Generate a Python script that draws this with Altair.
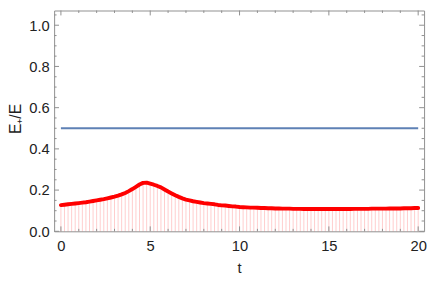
import altair as alt
import pandas as pd

# ---- data ----
t_vals = [
    0.0, 0.2, 0.4, 0.6, 0.8, 1.0, 1.2, 1.4, 1.6, 1.8,
    2.0, 2.2, 2.4, 2.6, 2.8, 3.0, 3.2, 3.4, 3.6, 3.8,
    4.0, 4.2, 4.4, 4.6, 4.8, 5.0, 5.2, 5.4, 5.6, 5.8,
    6.0, 6.2, 6.4, 6.6, 6.8, 7.0, 7.2, 7.4, 7.6, 7.8,
    8.0, 8.2, 8.4, 8.6, 8.8, 9.0, 9.2, 9.4, 9.6, 9.8,
    10.0, 10.2, 10.4, 10.6, 10.8, 11.0, 11.2, 11.4, 11.6, 11.8,
    12.0, 12.2, 12.4, 12.6, 12.8, 13.0, 13.2, 13.4, 13.6, 13.8,
    14.0, 14.2, 14.4, 14.6, 14.8, 15.0, 15.2, 15.4, 15.6, 15.8,
    16.0, 16.2, 16.4, 16.6, 16.8, 17.0, 17.2, 17.4, 17.6, 17.8,
    18.0, 18.2, 18.4, 18.6, 18.8, 19.0, 19.2, 19.4, 19.6, 19.8,
    20.0,
]
ratio_vals = [
    0.127, 0.129, 0.131, 0.133, 0.135, 0.137, 0.139, 0.141, 0.144, 0.147,
    0.150, 0.153, 0.156, 0.160, 0.164, 0.168, 0.173, 0.179, 0.186, 0.195,
    0.205, 0.216, 0.227, 0.235, 0.236, 0.231, 0.226, 0.220, 0.213, 0.203,
    0.193, 0.184, 0.175, 0.167, 0.160, 0.154, 0.150, 0.146, 0.143, 0.140,
    0.137, 0.135, 0.133, 0.131, 0.128, 0.126, 0.125, 0.123, 0.121, 0.120,
    0.118, 0.117, 0.116, 0.115, 0.115, 0.114, 0.113, 0.113, 0.112, 0.112,
    0.111, 0.111, 0.110, 0.110, 0.110, 0.109, 0.109, 0.109, 0.108, 0.108,
    0.108, 0.108, 0.108, 0.108, 0.108, 0.108, 0.108, 0.108, 0.108, 0.108,
    0.108, 0.108, 0.109, 0.109, 0.109, 0.109, 0.109, 0.110, 0.110, 0.110,
    0.110, 0.110, 0.111, 0.111, 0.111, 0.111, 0.112, 0.112, 0.112, 0.113,
    0.113,
]
blue_t = [0, 20]
blue_vals = [0.5, 0.5]

x_major = [0, 5, 10, 15, 20]
x_minor = [1, 2, 3, 4, 6, 7, 8, 9, 11, 12, 13, 14, 16, 17, 18, 19]
y_major = [0.0, 0.2, 0.4, 0.6, 0.8, 1.0]
y_minor = [0.05, 0.1, 0.15, 0.25, 0.3, 0.35, 0.45, 0.5, 0.55, 0.65, 0.7,
           0.75, 0.85, 0.9, 0.95, 1.05]

# ---- layout / style ----
W, H = 377, 225
XDOM = [-0.38, 20.33]
YDOM = [0, 1.0714]
FRAME = "#8f8f8f"
FONT = "Liberation Sans"

df = pd.DataFrame({"t": t_vals, "r": ratio_vals})
df["base"] = 0.0
blue = pd.DataFrame({"t": blue_t, "r": blue_vals})

xs = alt.Scale(domain=XDOM, nice=False, zero=False)
ys = alt.Scale(domain=YDOM, nice=False, zero=False)

xaxis = alt.Axis(values=x_major, format="d", ticks=False, tickSize=0, domain=False,
                 grid=False, labelPadding=8, labelFontSize=15, labelFont=FONT,
                 labelColor="#222222", labelOverlap=False, labelBound=False,
                 title="t", titleFont=FONT, titleFontSize=15,
                 titleFontWeight="normal", titleColor="#222222",
                 titleBaseline="alphabetic", titleY=42)
yaxis = alt.Axis(values=y_major, format=".1f", ticks=False, tickSize=0, domain=False,
                 grid=False, labelPadding=5, labelFontSize=15, labelFont=FONT,
                 labelColor="#222222", title="E₊/E", titleFont=FONT, titleFontSize=16,
                 titleFontWeight="normal", titleColor="#222222",
                 titleBaseline="top", titleX=-47, titleY=110)

stems = alt.Chart(df).mark_rule(color="#ff0000", opacity=0.2, strokeWidth=1).encode(
    x=alt.X("t:Q", scale=xs, axis=xaxis),
    y=alt.Y("r:Q", scale=ys, axis=yaxis),
    y2="base:Q",
)
red = alt.Chart(df).mark_line(color="#ff0000", strokeWidth=4, strokeCap="round",
                              strokeJoin="round").encode(
    x=alt.X("t:Q", scale=xs), y=alt.Y("r:Q", scale=ys))
blueline = alt.Chart(blue).mark_line(color="#5e81b5", strokeWidth=2).encode(
    x=alt.X("t:Q", scale=xs), y=alt.Y("r:Q", scale=ys))

xmaj = pd.DataFrame({"v": x_major})
xmin = pd.DataFrame({"v": x_minor})
ymaj = pd.DataFrame({"v": y_major})
ymin = pd.DataFrame({"v": y_minor})


def xticks(d, ln):
    b = alt.Chart(d).mark_rule(color=FRAME, strokeWidth=1).encode(
        x=alt.X("v:Q", scale=xs), y=alt.value(H), y2=alt.value(H - ln))
    t = alt.Chart(d).mark_rule(color=FRAME, strokeWidth=1).encode(
        x=alt.X("v:Q", scale=xs), y=alt.value(0), y2=alt.value(ln))
    return [b, t]


def yticks(d, ln):
    l = alt.Chart(d).mark_rule(color=FRAME, strokeWidth=1).encode(
        y=alt.Y("v:Q", scale=ys), x=alt.value(0), x2=alt.value(ln))
    r = alt.Chart(d).mark_rule(color=FRAME, strokeWidth=1).encode(
        y=alt.Y("v:Q", scale=ys), x=alt.value(W), x2=alt.value(W - ln))
    return [l, r]


layers = [stems, blueline, red] + xticks(xmaj, 5) + xticks(xmin, 2.5) \
    + yticks(ymaj, 5) + yticks(ymin, 2.5)

chart = alt.layer(*layers).properties(
    width=W, height=H,
    autosize=alt.AutoSizeParams(type="none"),
    padding={"left": 47, "top": 0, "right": 4, "bottom": 44},
).configure_view(stroke=FRAME, strokeWidth=1)

chart.save("out.html", embed_options={"renderer": "svg", "actions": False})
